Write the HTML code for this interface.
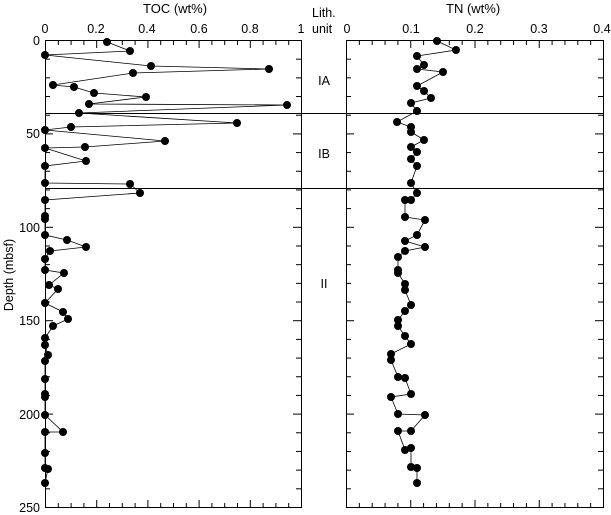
<!DOCTYPE html>
<html><head><style>body{margin:0;background:#fff}svg{display:block}text{font-family:"Liberation Sans",sans-serif;font-size:12.5px;fill:#000}</style></head>
<body>
<svg id="s" width="611" height="515" xmlns="http://www.w3.org/2000/svg">
<g stroke="#000" stroke-width="1" fill="none">
<rect x="45.5" y="40.5" width="256" height="467"/>
<rect x="346.5" y="40.5" width="257" height="467"/>
<line x1="45" y1="113.5" x2="604" y2="113.5"/>
<line x1="45" y1="188.5" x2="604" y2="188.5"/>
</g>
<g id="ticks" stroke="#000" stroke-width="1"></g>
<g id="data"></g>
<text x="143" y="13" style="font-size:13px">TOC (wt%)</text>
<text x="446" y="13" style="font-size:13px">TN (wt%)</text>
<text x="312" y="17">Lith.</text>
<text x="312" y="33">unit</text>
<g text-anchor="middle">
<text x="45" y="33">0</text><text x="96" y="33">0.2</text><text x="147" y="33">0.4</text><text x="199" y="33">0.6</text><text x="250" y="33">0.8</text><text x="301" y="33">1</text>
<text x="347" y="33">0</text><text x="411" y="33">0.1</text><text x="475" y="33">0.2</text><text x="539" y="33">0.3</text><text x="602" y="33">0.4</text>
<text x="324" y="85">IA</text><text x="324" y="158">IB</text><text x="324" y="288">II</text>
</g>
<g text-anchor="end">
<text x="40" y="45">0</text><text x="40" y="138">50</text><text x="40" y="232">100</text><text x="40" y="325">150</text><text x="40" y="419">200</text><text x="40" y="512">250</text>
</g>
<text transform="translate(13,275) rotate(-90)" text-anchor="middle">Depth (mbsf)</text>
</svg>
<script>
var t=document.getElementById('ticks'),d=document.getElementById('data'),h='';
function L(a,b,c,e){h+='<line x1="'+a+'" y1="'+b+'" x2="'+c+'" y2="'+e+'"/>';}
for(var m=0;m<=250;m+=10){var y=40.5+m*1.868,len=(m%50==0)?8:5;
L(45,y,45+len,y);L(301,y,301-len,y);L(346,y,346+len,y);L(603,y,603-len,y);}
for(var i=0;i<=20;i++){var x=45.5+i*12.8,len=(i%4==0)?8:5;L(x,40,x,40+len);L(x,508,x,508-len);}
for(var i=0;i<=20;i++){var x=346.5+i*12.85,len=(i%5==0)?8:5;L(x,40,x,40+len);L(x,508,x,508-len);}
t.innerHTML=h;
var toc=[[107,42],[130,51],[45,55],[151,66],[269,69],[133,73],[53,85],[74,87],[94,93],[146,97],[89,104],[287,105],[79,113],[237,123],[71,127],[45,130],[165,141],[85,147],[45,148],[86,161],[45,166],[45,183],[130,184],[140,193],[45,200],[45,216],[45,219],[45,235],[67,240],[86,247],[50,251],[45,259],[45,270],[64,273],[49,285],[58,289],[45,303],[63,312],[68,319],[53,326],[45,338],[45,345],[48,355],[45,361],[45,379],[45,394],[45,397],[45,415],[63,432],[45,432],[45,453],[45,468],[48,469],[45,483]];
var tn=[[437,41],[456,50],[417,56],[424,65],[417,69],[443,72],[417,86],[424,91],[431,98],[411,103],[417,111],[397,122],[411,127],[411,132],[424,140],[411,147],[417,152],[411,159],[417,166],[411,183],[417,193],[411,200],[405,200],[405,217],[425,220],[417,235],[405,241],[425,247],[405,251],[398,257],[398,270],[398,273],[405,284],[405,290],[411,305],[405,311],[398,320],[398,326],[405,336],[411,344],[391,354],[391,360],[398,377],[405,378],[411,394],[391,397],[398,414],[425,415],[411,431],[398,431],[405,450],[411,448],[411,467],[417,468],[417,483]];
var g='';
[toc,tn].forEach(function(a){g+='<polyline fill="none" stroke="#000" stroke-width="0.8" points="'+a.map(function(p){return p.join(',')}).join(' ')+'"/>';
a.forEach(function(p){g+='<circle cx="'+p[0]+'" cy="'+p[1]+'" r="4" fill="#000"/>';});});
d.innerHTML=g;
</script>
</body></html>
